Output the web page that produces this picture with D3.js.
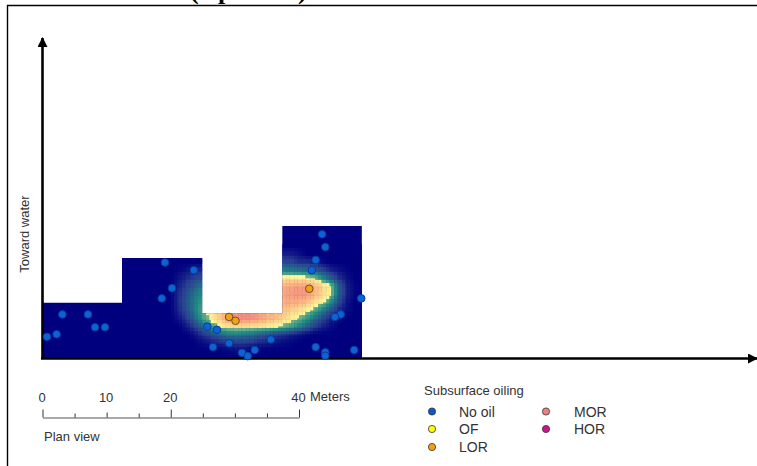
<!DOCTYPE html>
<html>
<head>
<meta charset="utf-8">
<style>
html, body { margin: 0; padding: 0; background: #fff; }
svg { display: block; }
text { font-family: "Liberation Sans", Arial, sans-serif; fill: #333; }
</style>
<script src="https://cdn.jsdelivr.net/npm/d3@7"></script>
</head>
<body>
<div id="chart"></div>
<script>
"use strict";

// site outline, metres
const outlineX = [0, 0, 12.4, 12.4, 24.9, 24.9, 37.4, 37.4, 49.8, 49.8];
const outlineY = [0, 8.6, 8.6, 15.6, 15.6, 7, 7, 20.6, 20.6, 0];

// oiling surface, metres and 0-100 intensity
const heatX = [17.5, 18.75, 20, 21.25, 22.5, 23.75, 25, 26.25, 27.5, 28.75, 30, 31.25, 32.5, 33.75, 35, 36.25, 37.5, 38.75, 40, 41.25, 42.5, 43.75, 45, 46.25, 47.5, 48.75, 50];
const heatY = [0, 1.25, 2.5, 3.75, 5, 6.25, 7.5, 8.75, 10, 11.25, 12.5, 13.75, 15, 16.25, 17.5];
const heatRows = [
    [0, 0, 0, 0, 0, 0, 0, 0, 0, 0, 0, 0, 0, 0, 0, 0, 0, 0, 0, 0, 0, 0, 0, 0, 0, 0, 0],
    [0, 0, 0, 0, 0, 0, 0, 0, 0, 1, 2, 2, 1, 0, 0, 0, 0, 0, 0, 0, 0, 0, 0, 0, 0, 0, 0],
    [0, 0, 0, 0, 0, 0, 2, 4, 6, 8, 9, 9, 8, 6, 5, 3, 2, 1, 0, 0, 0, 0, 0, 0, 0, 0, 0],
    [0, 0, 0, 0, 0, 3, 8, 12, 18, 24, 26, 24, 22, 18, 14, 10, 8, 5, 3, 1, 0, 0, 0, 0, 0, 0, 0],
    [0, 0, 0, 0, 4, 10, 20, 32, 46, 52, 56, 56, 54, 52, 50, 47, 42, 36, 28, 18, 10, 5, 2, 0, 0, 0, 0],
    [0, 0, 0, 3, 9, 20, 36, 50, 62, 84, 96, 100, 98, 90, 78, 72, 62, 52, 44, 34, 22, 12, 5, 2, 0, 0, 0],
    [0, 0, 0, 6, 14, 26, 40, 50, 62, 80, 92, 96, 94, 84, 74, 70, 68, 62, 56, 48, 38, 26, 14, 6, 2, 0, 0],
    [0, 0, 0, 7, 16, 26, 36, 46, 55, 65, 70, 72, 72, 70, 70, 72, 78, 80, 76, 68, 54, 46, 30, 12, 3, 0, 0],
    [0, 0, 0, 7, 14, 24, 32, 40, 45, 50, 55, 60, 62, 65, 68, 72, 82, 90, 94, 90, 74, 58, 46, 18, 5, 1, 0],
    [0, 0, 0, 5, 11, 18, 26, 30, 30, 30, 35, 40, 45, 50, 58, 66, 78, 84, 88, 86, 74, 60, 46, 18, 5, 1, 0],
    [0, 0, 0, 3, 7, 11, 14, 16, 16, 16, 18, 20, 25, 30, 38, 46, 52, 54, 52, 50, 45, 30, 18, 8, 3, 0, 0],
    [0, 0, 0, 1, 3, 6, 7, 8, 8, 8, 8, 10, 12, 15, 20, 25, 28, 26, 24, 22, 18, 12, 6, 3, 1, 0, 0],
    [0, 0, 0, 0, 0, 0, 0, 0, 0, 0, 0, 0, 0, 3, 6, 10, 12, 12, 8, 8, 5, 2, 0, 0, 0, 0, 0],
    [0, 0, 0, 0, 0, 0, 0, 0, 0, 0, 0, 0, 0, 0, 0, 2, 5, 5, 3, 0, 0, 0, 0, 0, 0, 0, 0],
    [0, 0, 0, 0, 0, 0, 0, 0, 0, 0, 0, 0, 0, 0, 0, 0, 0, 0, 0, 0, 0, 0, 0, 0, 0, 0, 0],
];

// sampling pits, metres
const noOilX = [0.7, 2.2, 3.1, 7.1, 8.2, 9.75, 19.1, 23.6, 20.2, 18.6, 43.6, 44.1, 42.6, 42.0, 49.7, 46.5, 45.6, 25.7, 27.2, 26.6, 29.1, 31.1, 32.0, 33.1, 35.6, 42.6, 44.1, 44.1, 48.6];
const noOilY = [3.3, 3.7, 6.8, 6.8, 4.8, 4.8, 14.9, 13.7, 10.9, 9.3, 19.3, 17.3, 15.3, 13.7, 9.3, 6.8, 6.4, 4.9, 4.4, 1.7, 2.3, 0.8, 0.3, 1.25, 2.9, 1.7, 0.9, 0.35, 1.25];
const lorX = [41.6, 29.1, 30.1];
const lorY = [10.8, 6.4, 5.8];

const barTicks = [0, 5, 10, 15, 20, 25, 30, 35, 40];
const barLabels = [0, 10, 20, 40];
const barMajor = [0, 20, 40];

const legendNames = ["No oil", "OF", "LOR", "MOR", "HOR"];
const legendColors = ["#0a58c8", "#ffff00", "#f5a010", "#f08080", "#d0108c"];
const legendColumns = [0, 0, 0, 1, 1];
const legendRows = [0, 1, 2, 0, 1];

const width = 757, height = 466;

const x = d3.scaleLinear().domain([0, 40]).range([42.5, 299]);
const y = d3.scaleLinear().domain([0, 40]).range([358, 101.6]);

const color = v => v < 45
    ? d3.scaleLinear().domain([0, 10, 30, 44]).range(["#00007f", "#2a3f92", "#1f8c84", "#6fb08a"])(v)
    : d3.scaleLinear().domain([45, 70, 100]).range(["#fdfb9c", "#fdbf82", "#f48a80"])(v);

const svg = d3.select("#chart").append("svg")
    .attr("width", width)
    .attr("height", height);

const defs = svg.append("defs");

defs.append("clipPath").attr("id", "site")
    .append("path")
    .attr("d", d3.line().x(i => x(outlineX[i])).y(i => y(outlineY[i]))(d3.range(outlineX.length)) + "Z");

defs.append("marker")
    .attr("id", "arrow")
    .attr("viewBox", "0 0 10 10")
    .attr("refX", 9).attr("refY", 5)
    .attr("markerUnits", "userSpaceOnUse")
    .attr("markerWidth", 10).attr("markerHeight", 10)
    .attr("orient", "auto")
    .append("path")
    .attr("d", "M0,0L10,5L0,10Z")
    .attr("fill", "#000");

// page frame and the clipped heading above it
svg.append("path")
    .attr("d", "M7.5,466V5.5H757")
    .attr("fill", "none")
    .attr("stroke", "#000")
    .attr("stroke-width", 1.4);

const heading = [["(", 190], ["p", 218], [")", 298]];
svg.selectAll(".heading").data(heading).join("text")
    .attr("class", "heading")
    .attr("x", d => d[1])
    .attr("y", -1)
    .style("font-family", "'Liberation Serif', serif")
    .style("font-weight", "bold")
    .style("font-size", "26px")
    .style("fill", "#000")
    .text(d => d[0]);

const surface = svg.append("g").attr("clip-path", "url(#site)");

surface.append("rect")
    .attr("x", x(0)).attr("y", y(21))
    .attr("width", x(50) - x(0)).attr("height", y(0) - y(21))
    .attr("fill", "#00007f");

const cellSize = 0.5;
const cells = [];
for (let i = 0; i < heatX.length - 1; i++) {
    for (let j = 0; j < heatY.length - 1; j++) {
        const dx = heatX[i + 1] - heatX[i], dy = heatY[j + 1] - heatY[j];
        for (let u = 0; u < dx; u += cellSize) {
            for (let w = 0; w < dy; w += cellSize) {
                const a = (u + cellSize / 2) / dx, b = (w + cellSize / 2) / dy;
                const top = d3.interpolateNumber(heatRows[j + 1][i], heatRows[j + 1][i + 1])(a);
                const bottom = d3.interpolateNumber(heatRows[j][i], heatRows[j][i + 1])(a);
                cells.push({mx: heatX[i] + u, my: heatY[j] + w, v: bottom + (top - bottom) * b});
            }
        }
    }
}

surface.selectAll("rect.cell").data(cells).join("rect")
    .attr("class", "cell")
    .attr("x", d => x(d.mx))
    .attr("y", d => y(d.my + cellSize))
    .attr("width", x(cellSize) - x(0) + 0.4)
    .attr("height", y(0) - y(cellSize) + 0.4)
    .attr("fill", d => color(d.v));

// main axes
svg.append("line")
    .attr("x1", 42.5).attr("y1", 358)
    .attr("x2", 42.5).attr("y2", 38)
    .attr("stroke", "#000").attr("stroke-width", 2.6)
    .attr("marker-end", "url(#arrow)");

svg.append("line")
    .attr("x1", 41).attr("y1", 358.5)
    .attr("x2", 757).attr("y2", 358.5)
    .attr("stroke", "#000").attr("stroke-width", 2.6)
    .attr("marker-end", "url(#arrow)");

svg.append("text")
    .attr("transform", "translate(29,234)rotate(-90)")
    .attr("text-anchor", "middle")
    .style("font-size", "13px")
    .text("Toward water");

// pits
const pit = (xs, ys, fill, stroke) => svg.append("g")
    .selectAll("circle").data(xs).join("circle")
    .attr("cx", d => x(d))
    .attr("cy", (d, i) => y(ys[i]))
    .attr("r", 3.8)
    .attr("fill", fill)
    .attr("stroke", stroke)
    .attr("stroke-width", 1);

pit(noOilX, noOilY, "#0a64d8", "#0a3c90");
pit(lorX, lorY, "#f5a010", "#6e5030");

// scale bar
const bar = svg.append("g")
    .attr("transform", "translate(0,417.5)")
    .call(d3.axisTop(x)
        .tickValues(barTicks)
        .tickSize(4)
        .tickSizeOuter(0)
        .tickFormat(d => barLabels.includes(d) ? d : ""));

bar.select(".domain").attr("stroke", "#555").attr("stroke-width", 1.2);
bar.selectAll(".tick line")
    .attr("stroke", "#333")
    .attr("y2", d => barMajor.includes(d) ? -8 : d === 10 ? -5 : -4);
bar.selectAll(".tick text")
    .attr("y", -16)
    .attr("dx", -1)
    .style("font-family", "'Liberation Sans', Arial, sans-serif")
    .style("font-size", "13px")
    .style("fill", "#333");

svg.append("text").attr("x", 310).attr("y", 401).style("font-size", "13px").text("Meters");
svg.append("text").attr("x", 44).attr("y", 441).style("font-size", "13px").text("Plan view");

// legend
svg.append("text").attr("x", 424).attr("y", 395).style("font-size", "13px").text("Subsurface oiling");

const legendX = d3.scaleOrdinal().domain([0, 1]).range([432, 546]);
const legendY = d3.scaleOrdinal().domain([0, 1, 2]).range([411.5, 429, 447]);

const item = svg.append("g").selectAll("g").data(legendNames).join("g")
    .attr("transform", (d, i) => `translate(${legendX(legendColumns[i])},${legendY(legendRows[i])})`);

item.append("circle")
    .attr("r", 3.6)
    .attr("fill", (d, i) => legendColors[i])
    .attr("stroke", "#333")
    .attr("stroke-width", 0.8);

item.append("text")
    .attr("x", (d, i) => legendColumns[i] ? 28 : 27)
    .attr("y", 5)
    .style("font-size", "14px")
    .text(d => d);
</script>
</body>
</html>
